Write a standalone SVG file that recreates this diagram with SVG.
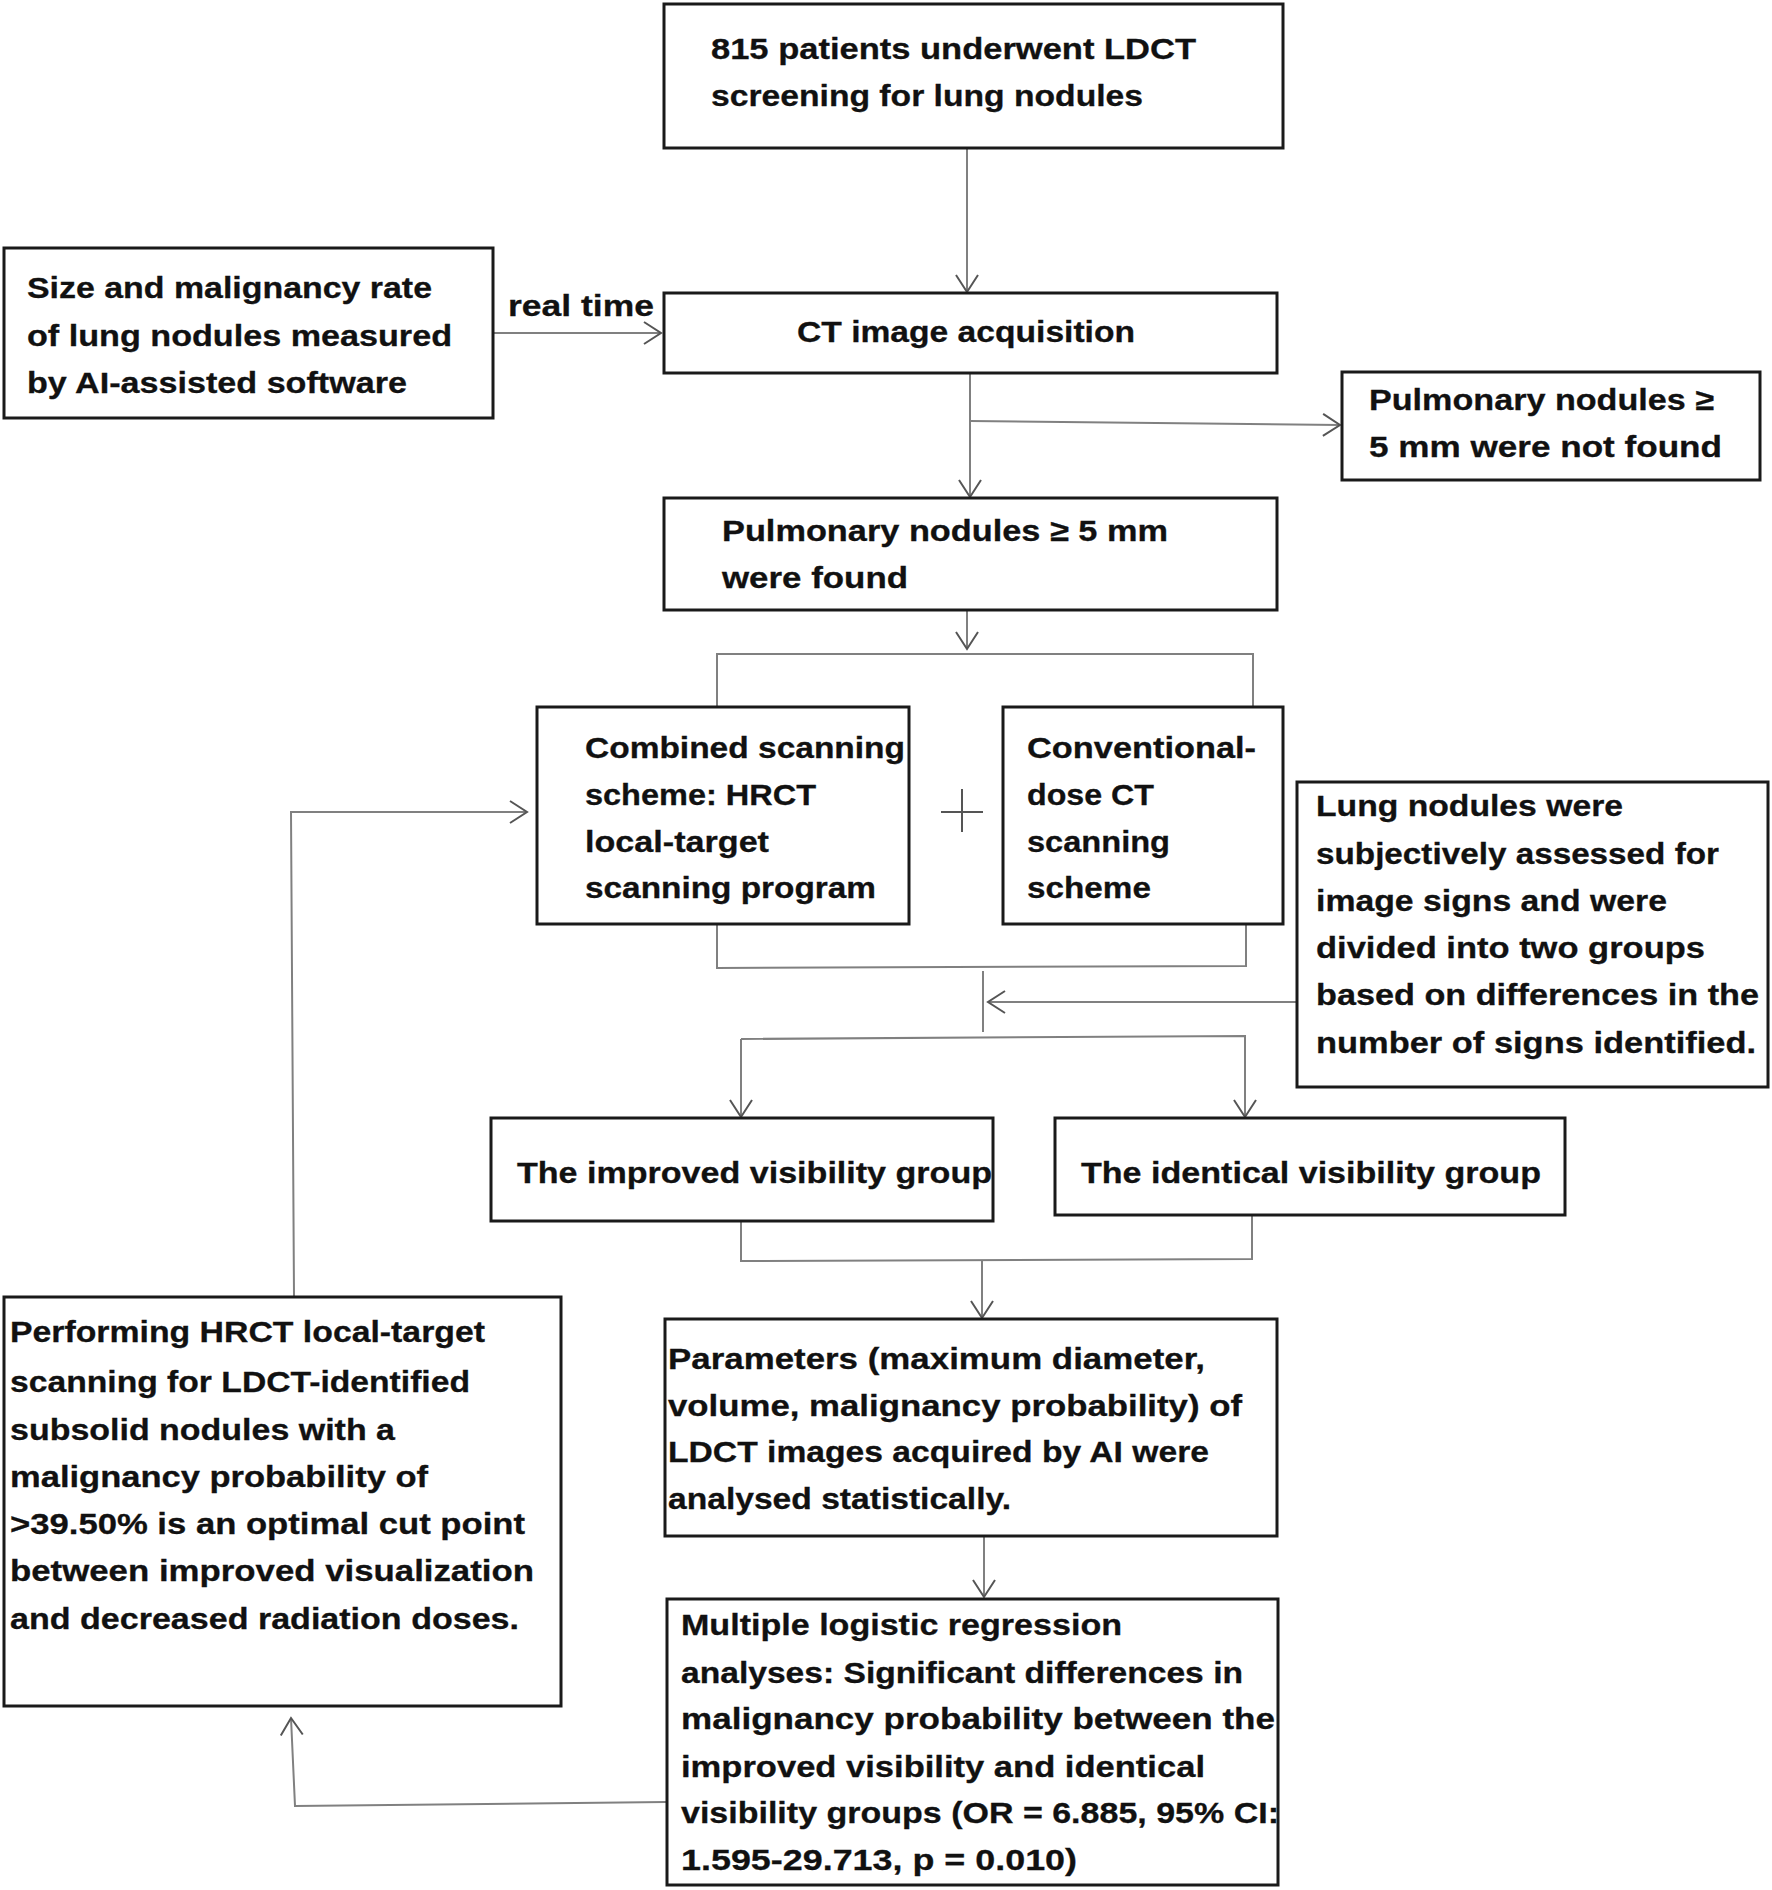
<svg xmlns="http://www.w3.org/2000/svg" width="1772" height="1890" viewBox="0 0 1772 1890">
<defs>
<style>
.box{fill:#fff;stroke:#1a1a1a;stroke-width:3}
.c{fill:none;stroke:#808080;stroke-width:2}
.t{font-family:"Liberation Sans",Arial,sans-serif;font-weight:bold;font-size:30px;fill:#111;stroke:#111;stroke-width:0.3}
</style>
<marker id="ah" markerUnits="userSpaceOnUse" markerWidth="30" markerHeight="30" viewBox="-20 -15 24 30" refX="0" refY="0" orient="auto">
<path d="M-17,-11 L0,0 L-17,11" fill="none" stroke="#555" stroke-width="2"/>
</marker>
</defs>
<rect width="1772" height="1890" fill="#fff"/>

<g id="connectors">
<line class="c" x1="967" y1="149" x2="967" y2="292" marker-end="url(#ah)"/>
<line class="c" x1="494" y1="333" x2="661" y2="333" marker-end="url(#ah)"/>
<line class="c" x1="970" y1="374" x2="970" y2="497" marker-end="url(#ah)"/>
<line class="c" x1="970" y1="421" x2="1340" y2="425" marker-end="url(#ah)"/>
<line class="c" x1="967" y1="611" x2="967" y2="649" marker-end="url(#ah)"/>
<polyline class="c" points="717,707 717,654 1253,654 1253,707"/>
<polyline class="c" points="717,925 717,968 1246,966 1246,925"/>
<line class="c" x1="983" y1="971" x2="983" y2="1032"/>
<line class="c" x1="1296" y1="1002" x2="988" y2="1002" marker-end="url(#ah)"/>
<polyline class="c" points="741,1039 1245,1036 1245,1117" marker-end="url(#ah)"/>
<line class="c" x1="741" y1="1039" x2="741" y2="1117" marker-end="url(#ah)"/>
<polyline class="c" points="741,1222 741,1261 1252,1259 1252,1215"/>
<line class="c" x1="982" y1="1261" x2="982" y2="1318" marker-end="url(#ah)"/>
<line class="c" x1="984" y1="1537" x2="984" y2="1597" marker-end="url(#ah)"/>
<polyline class="c" points="666,1802 295,1806 291,1718" marker-end="url(#ah)"/>
<polyline class="c" points="294,1296 291,812 527,812" marker-end="url(#ah)"/>
<line x1="941" y1="812" x2="983" y2="812" stroke="#555" stroke-width="2"/>
<line x1="962" y1="789" x2="962" y2="832" stroke="#555" stroke-width="2"/>
</g>

<g id="n1">
<rect class="box" x="664" y="4" width="619" height="144"/>
<text class="t" x="711" y="59" textLength="485" lengthAdjust="spacingAndGlyphs">815 patients underwent LDCT</text>
<text class="t" x="711" y="106" textLength="432" lengthAdjust="spacingAndGlyphs">screening for lung nodules</text>
</g>

<g id="n2">
<rect class="box" x="4" y="248" width="489" height="170"/>
<text class="t" x="27" y="298" textLength="405" lengthAdjust="spacingAndGlyphs">Size and malignancy rate</text>
<text class="t" x="27" y="346" textLength="425" lengthAdjust="spacingAndGlyphs">of lung nodules measured</text>
<text class="t" x="27" y="393" textLength="380" lengthAdjust="spacingAndGlyphs">by AI-assisted software</text>
</g>
<text class="t" x="508" y="316" textLength="146" lengthAdjust="spacingAndGlyphs">real time</text>

<g id="n3">
<rect class="box" x="664" y="293" width="613" height="80"/>
<text class="t" x="797" y="342" textLength="338" lengthAdjust="spacingAndGlyphs">CT image acquisition</text>
</g>

<g id="n4">
<rect class="box" x="1342" y="372" width="418" height="108"/>
<text class="t" x="1369" y="410" textLength="345" lengthAdjust="spacingAndGlyphs">Pulmonary nodules ≥</text>
<text class="t" x="1369" y="457" textLength="353" lengthAdjust="spacingAndGlyphs">5 mm were not found</text>
</g>

<g id="n5">
<rect class="box" x="664" y="498" width="613" height="112"/>
<text class="t" x="722" y="541" textLength="446" lengthAdjust="spacingAndGlyphs">Pulmonary nodules ≥ 5 mm</text>
<text class="t" x="722" y="588" textLength="186" lengthAdjust="spacingAndGlyphs">were found</text>
</g>

<g id="n6">
<rect class="box" x="537" y="707" width="372" height="217"/>
<text class="t" x="585" y="758" textLength="320" lengthAdjust="spacingAndGlyphs">Combined scanning</text>
<text class="t" x="585" y="805" textLength="231" lengthAdjust="spacingAndGlyphs">scheme: HRCT</text>
<text class="t" x="585" y="852" textLength="184" lengthAdjust="spacingAndGlyphs">local-target</text>
<text class="t" x="585" y="898" textLength="291" lengthAdjust="spacingAndGlyphs">scanning program</text>
</g>

<g id="n7">
<rect class="box" x="1003" y="707" width="280" height="217"/>
<text class="t" x="1027" y="758" textLength="229" lengthAdjust="spacingAndGlyphs">Conventional-</text>
<text class="t" x="1027" y="805" textLength="127" lengthAdjust="spacingAndGlyphs">dose CT</text>
<text class="t" x="1027" y="852" textLength="143" lengthAdjust="spacingAndGlyphs">scanning</text>
<text class="t" x="1027" y="898" textLength="124" lengthAdjust="spacingAndGlyphs">scheme</text>
</g>

<g id="n8">
<rect class="box" x="1297" y="782" width="471" height="305"/>
<text class="t" x="1316" y="816" textLength="307" lengthAdjust="spacingAndGlyphs">Lung nodules were</text>
<text class="t" x="1316" y="864" textLength="403" lengthAdjust="spacingAndGlyphs">subjectively assessed for</text>
<text class="t" x="1316" y="911" textLength="351" lengthAdjust="spacingAndGlyphs">image signs and were</text>
<text class="t" x="1316" y="958" textLength="389" lengthAdjust="spacingAndGlyphs">divided into two groups</text>
<text class="t" x="1316" y="1005" textLength="443" lengthAdjust="spacingAndGlyphs">based on differences in the</text>
<text class="t" x="1316" y="1053" textLength="440" lengthAdjust="spacingAndGlyphs">number of signs identified.</text>
</g>

<g id="n9">
<rect class="box" x="491" y="1118" width="502" height="103"/>
<text class="t" x="517" y="1183" textLength="475" lengthAdjust="spacingAndGlyphs">The improved visibility group</text>
</g>

<g id="n10">
<rect class="box" x="1055" y="1118" width="510" height="97"/>
<text class="t" x="1081" y="1183" textLength="460" lengthAdjust="spacingAndGlyphs">The identical visibility group</text>
</g>

<g id="n11">
<rect class="box" x="665" y="1319" width="612" height="217"/>
<text class="t" x="668" y="1369" textLength="537" lengthAdjust="spacingAndGlyphs">Parameters (maximum diameter,</text>
<text class="t" x="668" y="1416" textLength="574" lengthAdjust="spacingAndGlyphs">volume, malignancy probability) of</text>
<text class="t" x="668" y="1462" textLength="541" lengthAdjust="spacingAndGlyphs">LDCT images acquired by AI were</text>
<text class="t" x="668" y="1509" textLength="343" lengthAdjust="spacingAndGlyphs">analysed statistically.</text>
</g>

<g id="n12">
<rect class="box" x="667" y="1599" width="611" height="286"/>
<text class="t" x="681" y="1635" textLength="441" lengthAdjust="spacingAndGlyphs">Multiple logistic regression</text>
<text class="t" x="681" y="1683" textLength="562" lengthAdjust="spacingAndGlyphs">analyses: Significant differences in</text>
<text class="t" x="681" y="1729" textLength="594" lengthAdjust="spacingAndGlyphs">malignancy probability between the</text>
<text class="t" x="681" y="1777" textLength="524" lengthAdjust="spacingAndGlyphs">improved visibility and identical</text>
<text class="t" x="681" y="1823" textLength="598" lengthAdjust="spacingAndGlyphs">visibility groups (OR = 6.885, 95% CI:</text>
<text class="t" x="681" y="1870" textLength="396" lengthAdjust="spacingAndGlyphs">1.595-29.713, p = 0.010)</text>
</g>

<g id="n13">
<rect class="box" x="4" y="1297" width="557" height="409"/>
<text class="t" x="10" y="1342" textLength="475" lengthAdjust="spacingAndGlyphs">Performing HRCT local-target</text>
<text class="t" x="10" y="1392" textLength="460" lengthAdjust="spacingAndGlyphs">scanning for LDCT-identified</text>
<text class="t" x="10" y="1440" textLength="385" lengthAdjust="spacingAndGlyphs">subsolid nodules with a</text>
<text class="t" x="10" y="1487" textLength="418" lengthAdjust="spacingAndGlyphs">malignancy probability of</text>
<text class="t" x="10" y="1534" textLength="515" lengthAdjust="spacingAndGlyphs">&gt;39.50% is an optimal cut point</text>
<text class="t" x="10" y="1581" textLength="524" lengthAdjust="spacingAndGlyphs">between improved visualization</text>
<text class="t" x="10" y="1629" textLength="509" lengthAdjust="spacingAndGlyphs">and decreased radiation doses.</text>
</g>
</svg>
